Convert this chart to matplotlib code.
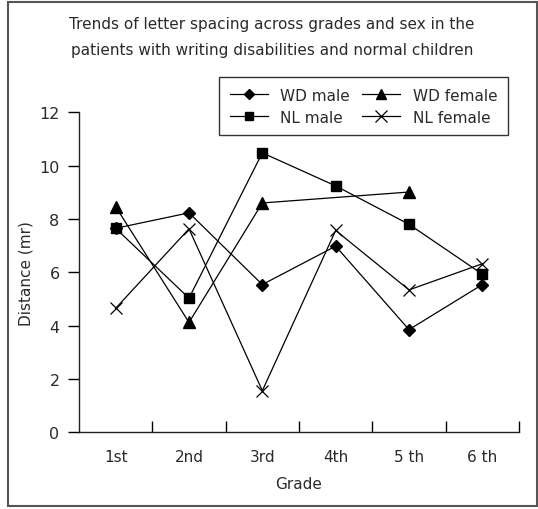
import numpy as np
import matplotlib
matplotlib.use("Agg")
import matplotlib.pyplot as plt
from matplotlib.patches import Rectangle

grades = ["1st", "2nd", "3rd", "4th", "5 th", "6 th"]
wd_male = [7.65, 8.23, 5.54, 6.98, 3.85, 5.54]
wd_female = [8.46, 4.12, 8.60, np.nan, 9.01, np.nan]
nl_male = [7.65, 5.03, 10.48, 9.24, 7.80, 5.93]
nl_female = [4.65, 7.63, 1.56, 7.57, 5.34, 6.32]

title_lines = ["Trends of letter spacing across grades and sex in the",
               "patients with writing disabilities and normal children"]

plt.rcParams["font.family"] = ["DejaVu Sans"]
text_color = "#2a2a2a"

W, H = 538, 510
fig = plt.figure(figsize=(W / 100, H / 100), dpi=100)

# outer frame
fig.patches.append(Rectangle((7.5 / W, 3 / H), 529 / W, 504 / H,
                             transform=fig.transFigure, fill=False,
                             edgecolor="#555555", linewidth=1.5))

fig.text(272 / W, 1 - 24 / H, title_lines[0], ha="center", va="center",
         fontsize=11, color=text_color)
fig.text(272 / W, 1 - 50 / H, title_lines[1], ha="center", va="center",
         fontsize=11, color=text_color)

ax = fig.add_axes([79 / W, (H - 433.3) / H, 440 / W, 320 / H])
x = np.arange(1, len(grades) + 1)
wf = np.array(wd_female)
ok = ~np.isnan(wf)

style = dict(color="black", linewidth=0.9)
ax.plot(x, wd_male, marker="D", markersize=6, label="WD male", **style)
ax.plot(x[ok], wf[ok], marker="^", markersize=8, label="WD female", **style)
ax.plot(x, nl_male, marker="s", markersize=7, label="NL male", **style)
ax.plot(x, nl_female, marker="x", markersize=9, markeredgewidth=0.9,
        label="NL female", **style)

ax.set_xlim(0.5, 6.5)
ax.set_ylim(0, 12)
ax.spines["top"].set_visible(False)
ax.spines["right"].set_visible(False)
for s in ("left", "bottom"):
    ax.spines[s].set_linewidth(1.0)
    ax.spines[s].set_color("#222222")

ax.set_xticks(x)
ax.set_xticklabels(grades)
ax.set_xticks(np.arange(1.5, 7.0, 1.0), minor=True)
ax.tick_params(axis="x", which="major", length=0, pad=12, labelsize=11,
               labelcolor=text_color)
ax.tick_params(axis="x", which="minor", direction="in", length=8, width=1.0)
ax.set_yticks(np.arange(0, 13, 2))
ax.tick_params(axis="y", direction="out", length=8, width=1.0, pad=6,
               labelsize=11.5, labelcolor=text_color)

ax.set_xlabel("Grade", fontsize=11, labelpad=9, color=text_color)
ax.set_ylabel("Distance (mr)", fontsize=11, labelpad=4, color=text_color)

handles, labels = ax.get_legend_handles_labels()
order = [0, 2, 1, 3]
leg = fig.legend([handles[i] for i in order], [labels[i] for i in order],
                 ncol=2, loc="upper left",
                 bbox_to_anchor=(219 / W, 1 - 78 / H), bbox_transform=fig.transFigure,
                 borderaxespad=0, frameon=True, fancybox=False, fontsize=11,
                 handlelength=2.5, handletextpad=0.8, columnspacing=0.8,
                 borderpad=0.7, labelspacing=0.45, markerscale=0.9)
leg.get_frame().set_edgecolor("black")
leg.get_frame().set_linewidth(1.0)
for t in leg.get_texts():
    t.set_color(text_color)

fig.savefig("out.png", dpi=100)
